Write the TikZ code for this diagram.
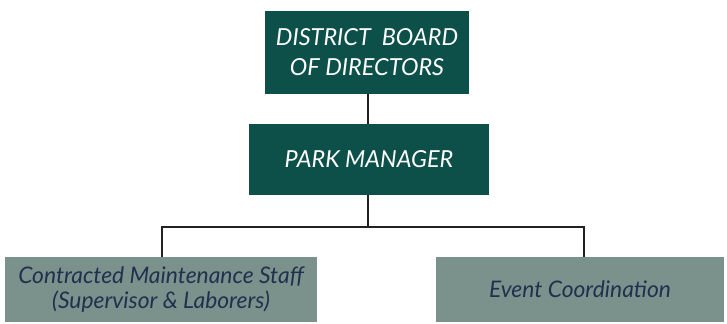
\documentclass[tikz,border=0pt]{standalone}
\usepackage{fontspec}
\setmainfont{Lato}
\usetikzlibrary{positioning, calc}
\definecolor{board}{RGB}{12,80,73}
\definecolor{staff}{RGB}{122,145,140}
\definecolor{stafftext}{RGB}{30,50,78}
\definecolor{linecol}{RGB}{34,34,34}
\tikzstyle{top} = [rectangle, inner sep=0pt, text centered, fill=board, text=white, font=\fontsize{20}{25.5}\selectfont\itshape]
\tikzstyle{unit} = [rectangle, inner sep=0pt, text centered, fill=staff, text=stafftext, font=\fontsize{19.5}{21}\selectfont\itshape]
\tikzstyle{link} = [line width=1pt, draw=linecol]

\begin{document}
\begin{tikzpicture}[x=0.03cm, y=-0.03cm]

\useasboundingbox (0,0) rectangle (727,323);

% Board
\node (board) [top, minimum width=6.12cm, minimum height=2.49cm, align=center] at (367,52.5) {DISTRICT\ \ BOARD\\OF DIRECTORS};

% Manager
\node (manager) [top, minimum width=7.2cm, minimum height=2.13cm] at (369,159.5) {PARK MANAGER};

% Staff units
\node (maint) [unit, minimum width=9.36cm, minimum height=1.95cm, align=center] at (161,289.5) {Contracted Maintenance Staff\\(Supervisor \& Laborers)};
\node (event) [unit, minimum width=8.64cm, minimum height=1.95cm] at (580,289.5) {Event Coordination};

% Lines
\coordinate (split) at (368,227);
\draw [link] (board.south -| split) -- (manager.north -| split);
\draw [link] (manager.south -| split) -- (split);
\draw [link] (split) -| ([xshift=0.03cm]maint.north);
\draw [link] (split) -| ([xshift=0.12cm]event.north);

\end{tikzpicture}
\end{document}
